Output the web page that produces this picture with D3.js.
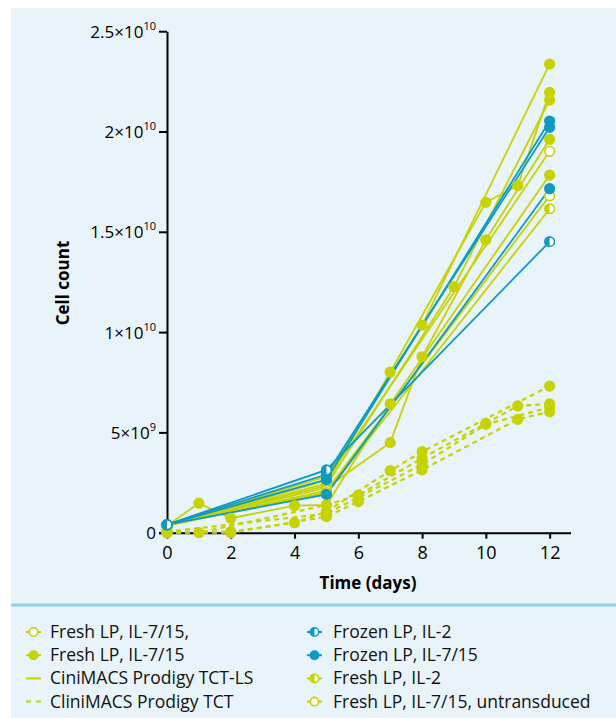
<!DOCTYPE html>
<html>
<head>
<meta charset="utf-8">
<script src="https://cdn.jsdelivr.net/npm/d3@7"></script>
<style>
  body { margin: 0; background: #fff; }
  text { font-family: "Open Sans", sans-serif; }
</style>
</head>
<body>
<div id="root"></div>
<script>
// DIMENSIONS
let width = 616,
  height = 718;

// colours
const yellow = '#c6d300';
const blue = '#0d9ac4';

// axis ticks
const xTicks = [0, 2, 4, 6, 8, 10, 12];
const yTicks = [0, 5e9, 1e10, 1.5e10, 2e10, 2.5e10];
const yTickBase = ['0', '5×10', '1×10', '1.5×10', '2×10', '2.5×10'];
const yTickSup = ['', '9', '10', '10', '10', '10'];

// CliniMACS Prodigy TCT (dashed)
const tct1 = [[0, 0], [2, 0.05e9], [4, 0.5e9], [5, 1.05e9], [7, 3.09e9], [8, 4.04e9], [12, 7.31e9]];
const tct2 = [[0, 0.1e9], [1, 0], [5, 1.38e9], [6, 1.88e9], [8, 3.71e9], [10, 5.45e9], [11, 6.32e9], [12, 6.42e9]];
const tct3 = [[0, 0], [2, 0], [5, 0.8e9], [6, 1.55e9], [8, 3.13e9], [11, 5.65e9], [12, 6.03e9]];
const tct4 = [[0, 0.05e9], [5, 0.95e9], [8, 3.4e9], [10, 5.4e9], [12, 6.25e9]];

// CliniMACS Prodigy TCT-LS (solid), fresh starting material
const ls1 = [[0, 3.5e8], [5, 2.8e9], [8, 1.035e10], [12, 2.336e10]];
const ls2 = [[0, 3.5e8], [5, 2.45e9], [7, 8.0e9], [10, 1.647e10], [11, 1.73e10], [12, 2.195e10]];
const ls3 = [[0, 3.5e8], [5, 2.35e9], [9, 1.226e10], [12, 2.157e10]];
const ls4 = [[0, 3.5e8], [5, 2.25e9], [7, 4.49e9], [8, 8.77e9], [10, 1.46e10], [12, 1.961e10]];
const ls5 = [[0, 3.5e8], [5, 2.6e9], [12, 1.901e10]];
const ls6 = [[0, 3.5e8], [1, 1.47e9], [2, 7.2e8], [4, 1.35e9], [5, 1.38e9], [7, 6.42e9], [12, 1.783e10]];
const ls7 = [[0, 3.5e8], [5, 2.1e9], [12, 1.68e10]];
const ls8 = [[0, 3.5e8], [5, 2.0e9], [12, 1.615e10]];
// frozen starting material
const lb1 = [[0, 4e8], [5, 2.65e9], [12, 2.052e10]];
const lb2 = [[0, 4e8], [5, 2.9e9], [12, 2.021e10]];
const lb3 = [[0, 4e8], [5, 1.91e9], [12, 1.715e10]];
const lb4 = [[0, 4e8], [5, 3.13e9], [12, 1.451e10]];

// marker kinds
const kinds = {
  fresh715Open: { color: yellow, fill: 'open' },
  fresh715: { color: yellow, fill: 'full' },
  frozenIL2: { color: blue, fill: 'half' },
  frozen715: { color: blue, fill: 'full' },
  freshIL2: { color: yellow, fill: 'half' },
  untrans: { color: yellow, fill: 'open' }
};

let series = [
  { data: tct1, kind: 'fresh715', dash: true },
  { data: tct2, kind: 'fresh715', dash: true },
  { data: tct3, kind: 'fresh715', dash: true },
  { data: tct4, kind: 'fresh715', dash: true },
  { data: ls1, kind: 'fresh715' },
  { data: ls2, kind: 'fresh715' },
  { data: ls3, kind: 'fresh715' },
  { data: ls4, kind: 'fresh715' },
  { data: ls5, kind: 'fresh715Open' },
  { data: ls6, kind: 'fresh715' },
  { data: ls7, kind: 'untrans' },
  { data: ls8, kind: 'freshIL2' },
  { data: lb1, kind: 'frozen715' },
  { data: lb2, kind: 'frozen715' },
  { data: lb3, kind: 'frozen715' },
  { data: lb4, kind: 'frozenIL2' }
];

const legendLeft = [
  ['Fresh LP, IL-7/15,', 'fresh715Open'],
  ['Fresh LP, IL-7/15', 'fresh715'],
  ['CiniMACS Prodigy TCT-LS', 'solid'],
  ['CliniMACS Prodigy TCT', 'dash']
];
const legendRight = [
  ['Frozen LP, IL-2', 'frozenIL2'],
  ['Frozen LP, IL-7/15', 'frozen715'],
  ['Fresh LP, IL-2', 'freshIL2'],
  ['Fresh LP, IL-7/15, untransduced', 'untrans']
];

let svg = d3.select('#root')
  .append('svg')
  .attr('width', width)
  .attr('height', height);

// panel background
svg.append('rect')
  .attr('x', 11).attr('y', 8)
  .attr('width', width - 11).attr('height', height - 8)
  .attr('fill', '#e8f4fa');

svg.append('line')
  .attr('x1', 11).attr('x2', width)
  .attr('y1', 605).attr('y2', 605)
  .attr('stroke', '#8fcfe7')
  .attr('stroke-width', 3);

// scales
let xScale = d3.scaleLinear().domain([0, 12.67]).range([167, 571]);
let yScale = d3.scaleLinear().domain([0, 2.5e10]).range([532.7, 31.2]);

// axes
let yAxis = svg.append('g')
  .attr('transform', `translate(${xScale(0)},0)`)
  .call(d3.axisLeft(yScale).tickValues(yTicks).tickSize(8).tickSizeOuter(0).tickFormat(''));
yAxis.selectAll('path, line').attr('stroke', '#000').attr('stroke-width', 2);

yAxis.selectAll('.tick')
  .append('text')
  .attr('x', -11)
  .attr('y', 6)
  .attr('text-anchor', 'end')
  .style('fill', '#000')
  .style('font-size', '17px')
  .each(function (d, i) {
    let t = d3.select(this);
    t.append('tspan').text(yTickBase[i]);
    if (yTickSup[i]) {
      t.append('tspan').attr('dy', -8).style('font-size', '11px').text(yTickSup[i]);
    }
  });

let xAxis = svg.append('g')
  .attr('transform', `translate(0,${yScale(0)})`)
  .call(d3.axisBottom(xScale).tickValues(xTicks).tickSize(6).tickSizeOuter(0).tickPadding(8));
xAxis.selectAll('path, line').attr('stroke', '#000').attr('stroke-width', 2);
xAxis.select('.domain').attr('d', `M${xScale(0) - 8},0.5H${xScale(12.67)}`);
xAxis.selectAll('text')
  .style('fill', '#000')
  .style('font-size', '18px')
  .style('font-family', '"Open Sans", sans-serif');

svg.append('text')
  .attr('x', 368)
  .attr('y', 589)
  .attr('text-anchor', 'middle')
  .style('font-size', '17px')
  .style('font-weight', 'bold')
  .text('Time (days)');

svg.append('text')
  .attr('transform', 'translate(69,283) rotate(-90)')
  .attr('text-anchor', 'middle')
  .style('font-size', '17px')
  .style('font-weight', 'bold')
  .text('Cell count');

// lines
let line = d3.line()
  .x(d => xScale(d[0]))
  .y(d => yScale(d[1]));

svg.selectAll('.series')
  .data(series)
  .enter()
  .append('path')
  .attr('class', 'series')
  .attr('d', d => line(d.data))
  .attr('fill', 'none')
  .attr('stroke', d => kinds[d.kind].color)
  .attr('stroke-width', d => d.dash ? 2.2 : 1.8)
  .attr('stroke-dasharray', d => d.dash ? '5,4' : null);

// markers
function drawMarker(g, cx, cy, kind, r) {
  let k = kinds[kind];
  g.append('circle')
    .attr('cx', cx).attr('cy', cy).attr('r', r)
    .attr('fill', k.fill === 'full' ? k.color : '#ffffff')
    .attr('stroke', k.color)
    .attr('stroke-width', 1.6);
  if (k.fill === 'half') {
    g.append('path')
      .attr('d', `M${cx},${cy - r}A${r},${r} 0 0 0 ${cx},${cy + r}Z`)
      .attr('fill', k.color);
  }
}

let markerLayer = svg.append('g');
series.forEach(s => {
  s.data.forEach(p => drawMarker(markerLayer, xScale(p[0]), yScale(p[1]), s.kind, 4.8));
});

// legend
function drawLegend(items, symX, textX) {
  items.forEach((item, i) => {
    let yy = 632 + i * 23.2;
    let g = svg.append('g');
    let kind = item[1];
    if (kind === 'dash') {
      g.append('line')
        .attr('x1', symX).attr('x2', symX + 15).attr('y1', yy).attr('y2', yy)
        .attr('stroke', yellow).attr('stroke-width', 2)
        .attr('stroke-dasharray', '5,5');
    } else {
      g.append('line')
        .attr('x1', symX).attr('x2', symX + 15).attr('y1', yy).attr('y2', yy)
        .attr('stroke', kind === 'solid' ? yellow : kinds[kind].color)
        .attr('stroke-width', 2);
      if (kind !== 'solid') drawMarker(g, symX + 7.5, yy, kind, 4.2);
    }
    g.append('text')
      .attr('x', textX)
      .attr('y', yy + 6)
      .style('font-size', '17.5px')
      .style('fill', '#111')
      .text(item[0]);
  });
}
drawLegend(legendLeft, 26, 50);
drawLegend(legendRight, 307, 333);
</script>
</body>
</html>
